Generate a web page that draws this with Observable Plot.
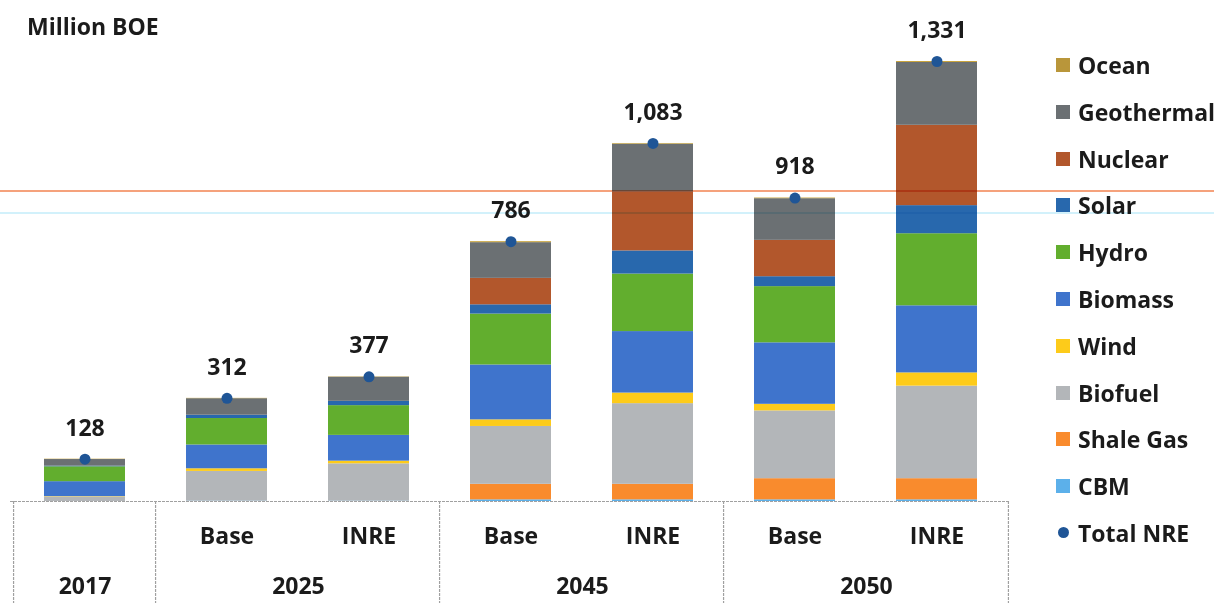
<!DOCTYPE html>
<html>
<head>
<meta charset="utf-8">
<script src="https://cdn.jsdelivr.net/npm/d3@7"></script>
<script src="https://cdn.jsdelivr.net/npm/@observablehq/plot@0.6"></script>
<style>
  body { margin: 0; background: #fff; }
  #chart { position: relative; width: 1214px; height: 603px; overflow: hidden;
           font-family: "Open Sans", sans-serif; font-weight: 700; color: #1b1b1b; }
  #chart > svg { position: absolute; left: 0; top: 0; }
  #title { position: absolute; left: 27px; top: 9px; font-size: 23px; line-height: 34px; }
  #legend { position: absolute; left: 1056px; top: 41.6px; }
  .item { height: 46.8px; display: flex; align-items: center; font-size: 23px; white-space: nowrap; }
  .sw { width: 14px; height: 14px; margin-right: 8px; flex: none; }
  .dot { width: 11px; height: 11px; border-radius: 50%; margin: 0 9px 0 2px; flex: none; }
  .scan { position: absolute; left: 0; width: 1214px; pointer-events: none; mix-blend-mode: multiply; }
</style>
</head>
<body>
<div id="chart">
  <div id="title">Million BOE</div>
  <div id="legend"></div>
  <div class="scan" style="top:189.5px;height:2px;background:#f5a27c;"></div>
  <div class="scan" style="top:212px;height:1.5px;background:#d2f1fb;"></div>
</div>
<script>
// Scenario columns along the x axis
const categories = ["2017", "2025 Base", "2025 INRE", "2045 Base", "2045 INRE", "2050 Base", "2050 INRE"];
const scenarioLabels = ["", "Base", "INRE", "Base", "INRE", "Base", "INRE"];
const years = ["2017", "2025", "2045", "2050"];

// Energy sources, stacked bottom to top
const seriesNames = ["CBM", "Shale Gas", "Biofuel", "Wind", "Biomass", "Hydro", "Solar", "Nuclear", "Geothermal", "Ocean"];
const seriesColors = ["#5cb0ea", "#f98b2d", "#b3b6b9", "#fdcb1a", "#3f74cc", "#62ae2e", "#2868ad", "#b2572c", "#6b7073", "#c9a43c"];

// Million BOE per source, one value per scenario column
const cbm        = [0,   1,   1,   5,   5,   5,   5];
const shaleGas   = [0,   0,   0,  47,  47,  64,  64];
const biofuel    = [14, 90, 113, 175, 244, 205, 280];
const wind       = [1,   8,   8,  20,  32,  20,  40];
const biomass    = [45, 72,  78, 166, 186, 186, 203];
const hydro      = [45, 80,  90, 154, 174, 170, 218];
const solar      = [2,  10,  13,  28,  70,  30,  85];
const nuclear    = [0,   0,   0,  80, 178, 110, 243];
const geothermal = [20, 50,  73, 108, 145, 126, 190];
const ocean      = [1,   1,   1,   3,   2,   2,   3];

// Total new & renewable energy per column
const totalNRE = [128, 312, 377, 786, 1083, 918, 1331];
const totalColor = "#1f5596";

const seriesValues = [cbm, shaleGas, biofuel, wind, biomass, hydro, solar, nuclear, geothermal, ocean];

const rows = [];
seriesNames.forEach((name, i) =>
  categories.forEach((cat, j) => rows.push({category: cat, source: name, value: seriesValues[i][j]}))
);
const totals = categories.map((cat, j) => ({category: cat, total: totalNRE[j]}));

// Multi-level category table under the bars
const scenarios = categories.map((cat, j) => ({category: cat, label: scenarioLabels[j]}));
const yearGroups = years.map(y => {
  const members = categories.filter(c => c.startsWith(y));
  return {year: y, first: members[0], last: members[members.length - 1], count: members.length};
});
const singleYears = yearGroups.filter(g => g.count === 1);
const pairedYears = yearGroups.filter(g => g.count === 2);

const W = 1214, H = 603;
const mL = 10, mR = 204, mT = 61, mB = 102;
const step = (W - mL - mR) / categories.length;
const yMax = d3.max(totalNRE);
const yBottom = -mB * yMax / (H - mT - mB);   // bottom edge of the svg in data units
const fmt = d3.format(",");
const ink = "#1b1b1b";
const lineStyle = {stroke: "#a0a0a0", strokeWidth: 1.2, strokeDasharray: "3,1"};

const chart = Plot.plot({
  width: W, height: H,
  marginLeft: mL, marginRight: mR, marginTop: mT, marginBottom: mB,
  style: {fontFamily: "'Open Sans', sans-serif", fontWeight: 700, background: "transparent", overflow: "visible"},
  x: {domain: categories, paddingInner: 0.43, paddingOuter: 0.215, axis: null},
  y: {domain: [0, yMax], axis: null},
  color: {domain: seriesNames, range: seriesColors},
  marks: [
    // category table lines
    Plot.ruleY([0], lineStyle),
    Plot.ruleX(yearGroups, {x: "first", dx: -step / 2, y1: 0, y2: yBottom, ...lineStyle}),
    Plot.ruleX(yearGroups.slice(-1), {x: "last", dx: step / 2, y1: 0, y2: yBottom, ...lineStyle}),
    // scenario row and year row
    Plot.text(scenarios, {x: "category", text: "label", frameAnchor: "bottom", lineAnchor: "middle", dy: 35, fontSize: 23, fill: ink}),
    Plot.text(singleYears, {x: "first", text: "year", frameAnchor: "bottom", lineAnchor: "middle", dy: 85, fontSize: 23, fill: ink}),
    Plot.text(pairedYears, {x: "first", text: "year", frameAnchor: "bottom", lineAnchor: "middle", dy: 85, dx: step / 2, fontSize: 23, fill: ink}),
    // stacked sources
    Plot.barY(rows, {x: "category", y: "value", fill: "source", order: seriesNames}),
    // totals
    Plot.dot(totals, {x: "category", y: "total", r: 5.5, fill: totalColor}),
    Plot.text(totals, {x: "category", y: "total", text: d => fmt(d.total), dy: -31, fontSize: 23, fill: ink})
  ]
});
document.getElementById("chart").prepend(chart);

// legend, top entry first
const legend = document.getElementById("legend");
seriesNames.slice().reverse().forEach(name => {
  const item = document.createElement("div");
  item.className = "item";
  const sw = document.createElement("span");
  sw.className = "sw";
  sw.style.background = name === "Ocean" ? "#b9963a" : seriesColors[seriesNames.indexOf(name)];
  item.append(sw, name);
  legend.append(item);
});
const tItem = document.createElement("div");
tItem.className = "item";
const tDot = document.createElement("span");
tDot.className = "dot";
tDot.style.background = totalColor;
tItem.append(tDot, "Total NRE");
legend.append(tItem);
</script>
</body>
</html>
